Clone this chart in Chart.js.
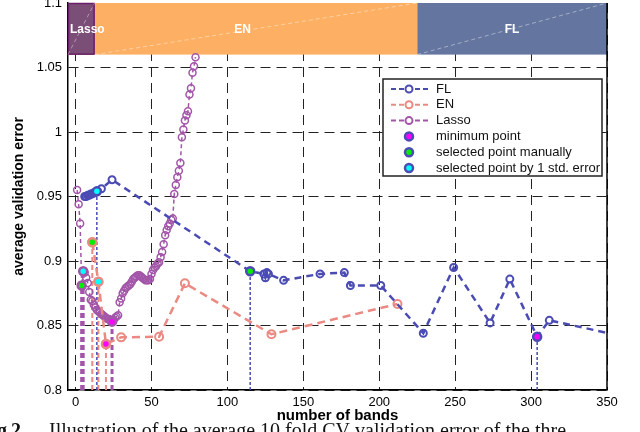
<!DOCTYPE html>
<html>
<head>
<meta charset="utf-8">
<script src="https://cdn.jsdelivr.net/npm/chart.js@4.4.0/dist/chart.umd.min.js"></script>
<style>
  html, body { margin: 0; padding: 0; background: #fff; }
  #wrap { width: 640px; height: 432px; }
</style>
</head>
<body>
<div id="wrap"><canvas id="cvChart" width="640" height="432"></canvas></div>
<script>
// Average validation error vs number of bands, three models

const flX = [6, 7, 8, 9, 10, 11, 12, 13, 14, 17, 24, 115, 124, 125, 126, 127, 137, 161, 177, 181, 201, 229, 249, 273, 286, 304, 312, 365];
const flY = [0.950, 0.950, 0.951, 0.951, 0.952, 0.952, 0.953, 0.953, 0.954, 0.956, 0.963, 0.892, 0.890, 0.887, 0.891, 0.890, 0.885, 0.890, 0.891, 0.881, 0.881, 0.844, 0.895, 0.852, 0.886, 0.8413, 0.854, 0.8405];

const enX = [11, 15, 20, 30, 55, 72, 129, 212];
const enY = [0.9145, 0.884, 0.8357, 0.8408, 0.8413, 0.8827, 0.8432, 0.8667];

const lassoX = [1, 2, 3, 4, 5, 6, 7, 8, 9, 10, 11, 12, 13, 14, 15, 16, 17, 18, 19, 20,
  21, 22, 23, 24, 25, 26, 27, 28, 29, 30, 31, 32, 33, 34, 35, 36, 37, 38, 39, 40,
  41, 42, 43, 44, 45, 46, 47, 48, 49, 50, 51, 52, 53, 54, 55, 56, 57, 58, 59, 60,
  61, 62, 63, 64, 65, 66, 67, 68, 69, 70, 71, 72, 73, 74, 75, 76, 77, 78, 79];
const lassoY = [0.955, 0.944, 0.929, 0.881, 0.892, 0.891, 0.887, 0.883, 0.876, 0.870,
  0.869, 0.866, 0.864, 0.862, 0.861, 0.860, 0.859, 0.858, 0.857, 0.856,
  0.855, 0.855, 0.854, 0.853, 0.854, 0.856, 0.857, 0.858, 0.868, 0.871,
  0.875, 0.877, 0.879, 0.880, 0.881, 0.882, 0.884, 0.886, 0.887, 0.888,
  0.889, 0.889, 0.888, 0.887, 0.886, 0.885, 0.885, 0.885, 0.886, 0.890,
  0.893, 0.895, 0.896, 0.898, 0.899, 0.903, 0.907, 0.913, 0.920, 0.924,
  0.927, 0.929, 0.932, 0.933, 0.952, 0.959, 0.965, 0.970, 0.976, 0.996,
  1.002, 1.009, 1.013, 1.016, 1.029, 1.034, 1.046, 1.051, 1.058];

// special points, one per series: FL, EN, Lasso
const seriesNames = ['FL', 'EN', 'Lasso'];
const minPointX = [304, 20, 24];
const minPointY = [0.8413, 0.8357, 0.853];
const manualPointX = [115, 11, 4];
const manualPointY = [0.892, 0.9145, 0.881];
const stdPointX = [14, 15, 5];
const stdPointY = [0.954, 0.884, 0.892];

// model range bands along the top
const bandNames = ['Lasso', 'EN', 'FL'];
const bandFrom = [-5, -5, 225];
const bandTo = [12.5, 225, 350];

const xTicks = [0, 50, 100, 150, 200, 250, 300, 350];
const yTicks = [0.8, 0.85, 0.9, 0.95, 1, 1.05, 1.1];

const legendLabels = ['FL', 'EN', 'Lasso', 'minimum point', 'selected point manually', 'selected point by 1 std. error'];

const seriesColors = ['#4b4bb4', '#ea8a82', '#a256a8'];
const bandColors = ['#7b4e78', '#fdb063', '#6476a0'];
const specialColors = ['#ff00ff', '#00ee00', '#00ffff'];
const FONT = '"Liberation Sans", Arial, sans-serif';

function pts(xs, ys) {
    return xs.map((x, i) => ({ x: x, y: ys[i] }));
}

const datasets = [];

// special markers (on top)
[[minPointX, minPointY], [manualPointX, manualPointY], [stdPointX, stdPointY]].forEach((p, k) => {
    datasets.push({
        label: legendLabels[3 + k],
        data: pts(p[0], p[1]),
        showLine: false,
        pointRadius: 4,
        pointBorderWidth: 2.5,
        pointBackgroundColor: specialColors[k],
        pointBorderColor: seriesColors,
        order: 0
    });
});

// main series
const seriesStyle = [
    { x: flX, y: flY, width: 2.5, dash: [7, 5], radius: 3.5, pw: 2 },
    { x: enX, y: enY, width: 2.5, dash: [8, 5], radius: 4, pw: 2 },
    { x: lassoX, y: lassoY, width: 1.5, dash: [4, 3], radius: 3.5, pw: 1.5 }
];
seriesStyle.forEach((s, i) => {
    datasets.push({
        label: seriesNames[i],
        data: pts(s.x, s.y),
        borderColor: seriesColors[i],
        borderWidth: s.width,
        borderDash: s.dash,
        pointRadius: s.radius,
        pointBorderWidth: s.pw,
        pointBorderColor: seriesColors[i],
        pointBackgroundColor: 'rgba(255,255,255,0)',
        tension: 0,
        order: 1 + i
    });
});

// drop lines from each special point to the axis
const dropStyle = [
    { width: 1.5, dash: [3, 2] },
    { width: 2, dash: [5, 3] },
    { width: 3, dash: [5, 3] }
];
[[minPointX, minPointY], [manualPointX, manualPointY], [stdPointX, stdPointY]].forEach(p => {
    p[0].forEach((x, i) => {
        datasets.push({
            label: 'drop',
            data: [{ x: x, y: yTicks[0] }, { x: x, y: p[1][i] }],
            borderColor: seriesColors[i],
            borderWidth: dropStyle[i].width,
            borderDash: dropStyle[i].dash,
            pointRadius: 0,
            order: 6
        });
    });
});

// top bands with labels
const bandPlugin = {
    id: 'bands',
    beforeDatasetsDraw(chart) {
        const { ctx, chartArea, scales: { x, y } } = chart;
        const top = y.getPixelForValue(1.1);
        const bottom = y.getPixelForValue(1.06);
        ctx.save();
        for (let i = bandNames.length - 1; i >= 0; i--) {
            const l = Math.max(x.getPixelForValue(bandFrom[i]), chartArea.left);
            const r = x.getPixelForValue(bandTo[i]);
            ctx.fillStyle = bandColors[i];
            ctx.fillRect(l, top, r - l, bottom - top);
        }
        // lasso outline
        const ll = x.getPixelForValue(bandFrom[0]);
        const lr = x.getPixelForValue(bandTo[0]);
        ctx.strokeStyle = '#6a1f6a';
        ctx.lineWidth = 1.5;
        ctx.strokeRect(ll + 0.5, top + 0.5, lr - ll - 1, bottom - top - 1);
        // faint diagonals
        ctx.strokeStyle = 'rgba(255,255,255,0.5)';
        ctx.lineWidth = 0.8;
        ctx.setLineDash([4, 3]);
        for (let i = 0; i < bandNames.length; i++) {
            const l = x.getPixelForValue(i === 0 ? bandFrom[0] : bandTo[i - 1]);
            const r = x.getPixelForValue(bandTo[i]);
            ctx.beginPath();
            ctx.moveTo(l, bottom);
            ctx.lineTo(r, top);
            ctx.stroke();
        }
        ctx.setLineDash([]);
        ctx.fillStyle = '#fff';
        ctx.font = 'bold 12px ' + FONT;
        ctx.textBaseline = 'middle';
        for (let i = 0; i < bandNames.length; i++) {
            const c = (x.getPixelForValue(bandFrom[i]) + x.getPixelForValue(bandTo[i])) / 2;
            const w = ctx.measureText(bandNames[i]).width;
            const lx = Math.max(c - w / 2, chartArea.left + 2);
            ctx.textAlign = 'left';
            ctx.fillText(bandNames[i], lx, (top + bottom) / 2 + 1);
        }
        // right frame edge
        ctx.strokeStyle = '#000';
        ctx.lineWidth = 1.5;
        ctx.beginPath();
        ctx.moveTo(chartArea.right, chartArea.top);
        ctx.lineTo(chartArea.right, chartArea.bottom);
        ctx.stroke();
        ctx.restore();
    }
};

// legend box inside the plot
const legendPlugin = {
    id: 'boxLegend',
    afterDatasetsDraw(chart) {
        const { ctx, chartArea } = chart;
        const bx = chartArea.right - 224, by = chartArea.top + 76, bw = 219, bh = 97;
        ctx.save();
        ctx.fillStyle = '#fff';
        ctx.fillRect(bx, by, bw, bh);
        ctx.strokeStyle = '#222';
        ctx.lineWidth = 1.5;
        ctx.strokeRect(bx, by, bw, bh);
        ctx.font = '13px ' + FONT;
        ctx.textBaseline = 'middle';
        ctx.textAlign = 'left';
        legendLabels.forEach((lab, i) => {
            const yy = by + 10 + i * 15.8;
            const mx = bx + 26;
            if (i < 3) {
                ctx.strokeStyle = seriesColors[i];
                ctx.lineWidth = 2;
                ctx.setLineDash([5, 3]);
                ctx.beginPath();
                ctx.moveTo(bx + 8, yy);
                ctx.lineTo(bx + 45, yy);
                ctx.stroke();
                ctx.setLineDash([]);
                ctx.fillStyle = '#fff';
                ctx.beginPath();
                ctx.arc(mx, yy, 3.5, 0, Math.PI * 2);
                ctx.fill();
                ctx.stroke();
            } else {
                ctx.fillStyle = specialColors[i - 3];
                ctx.strokeStyle = seriesColors[0];
                ctx.lineWidth = 2.5;
                ctx.beginPath();
                ctx.arc(mx, yy, 4, 0, Math.PI * 2);
                ctx.fill();
                ctx.stroke();
            }
            ctx.fillStyle = '#111';
            ctx.fillText(lab, bx + 53, yy);
        });
        ctx.restore();
    }
};

// figure caption fragment at the bottom
const captionPlugin = {
    id: 'caption',
    beforeDraw(chart) {
        const ctx = chart.ctx;
        ctx.save();
        ctx.fillStyle = '#111';
        ctx.textBaseline = 'alphabetic';
        ctx.font = 'bold 20px "Liberation Serif", serif';
        ctx.fillText('g.', -3, 437);
        ctx.fillText('2', 11, 437);
        ctx.font = '20px "Liberation Serif", serif';
        ctx.fillText('Illustration of the average 10 fold CV validation error of the thre', 49, 437, 594);
        ctx.restore();
    }
};

new Chart(document.getElementById('cvChart'), {
    type: 'line',
    data: { datasets: datasets },
    plugins: [bandPlugin, legendPlugin, captionPlugin],
    options: {
        responsive: false,
        animation: false,
        devicePixelRatio: 1,
        layout: { autoPadding: false, padding: { top: 3, right: 33, left: 0, bottom: 0 } },
        plugins: {
            legend: { display: false },
            tooltip: { enabled: false }
        },
        scales: {
            x: {
                type: 'linear',
                min: -5,
                max: 350,
                afterFit: s => { s.height = 42; s.paddingLeft = 0; s.paddingRight = 0; },
                afterBuildTicks: s => { s.ticks = xTicks.map(v => ({ value: v })); },
                grid: { color: '#222', lineWidth: 1, drawTicks: false },
                border: { color: '#000', width: 1.5, dash: [10, 6] },
                ticks: { color: '#000', padding: 5, font: { family: FONT, size: 13 } },
                title: { display: true, text: 'number of bands', color: '#000', padding: { top: 4, bottom: 7 }, font: { family: FONT, size: 15, weight: 'bold' } }
            },
            y: {
                type: 'linear',
                min: 0.8,
                max: 1.1,
                afterFit: s => { s.width = 68; s.paddingTop = 0; s.paddingBottom = 0; },
                afterBuildTicks: s => { s.ticks = yTicks.map(v => ({ value: v })); },
                grid: { color: '#222', lineWidth: 1, drawTicks: false },
                border: { color: '#000', width: 1.5, dash: [10, 6] },
                ticks: { color: '#000', padding: 6, font: { family: FONT, size: 13 }, callback: v => String(+v.toFixed(2)) },
                title: { display: true, text: 'average validation error', color: '#000', padding: { top: 11, bottom: 0 }, font: { family: FONT, size: 14, weight: 'bold' } }
            }
        }
    }
});
</script>
</body>
</html>
